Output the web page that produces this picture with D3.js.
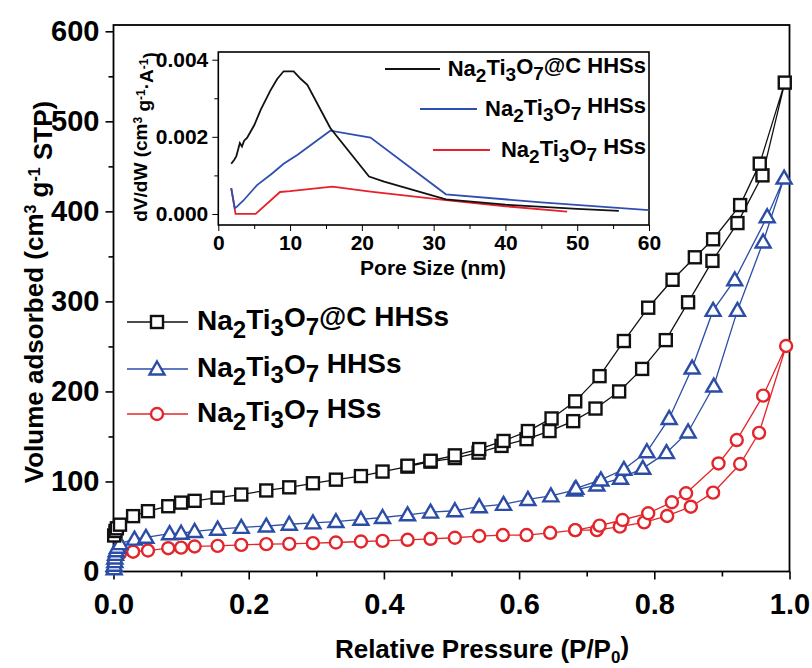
<!DOCTYPE html>
<html>
<head>
<meta charset="utf-8">
<script src="https://cdn.jsdelivr.net/npm/d3@7"></script>
<style>
  body { margin: 0; background: #fff; }
  text { font-family: "Liberation Sans", Arial, sans-serif; font-weight: bold; fill: #000; }
</style>
</head>
<body>
<svg id="chart" width="812" height="668"></svg>
<script>
// ---- isotherm data (relative pressure, volume) ----
var cAdsP = [0.001,0.003,0.005,0.0096,0.029,0.051,0.081,0.100,0.120,0.154,0.189,0.226,0.260,0.295,0.329,0.366,0.398,0.435,0.469,0.505,0.540,0.574,0.611,0.645,0.680,0.713,0.748,0.782,0.817,0.850,0.886,0.923,0.960,0.993];
var cAdsV = [40,45,48,52,61.5,67,72.5,76.5,78.5,82,85.5,90,93.5,98,102,106,111,116.5,122,126,132,139.5,147,156,167,181,200,225,257,299,345,387,440,543];
var cDesP = [0.956,0.927,0.887,0.860,0.827,0.791,0.755,0.719,0.683,0.648,0.613,0.577,0.541,0.505,0.469,0.435];
var cDesV = [453,407,369,349,324,293,256,217,189,170,156,145,136,129,123,117.5];

var hAdsP = [0.001,0.001,0.002,0.002,0.003,0.004,0.006,0.0096,0.031,0.048,0.083,0.100,0.120,0.154,0.189,0.226,0.260,0.295,0.329,0.366,0.398,0.435,0.469,0.505,0.541,0.577,0.613,0.647,0.682,0.715,0.750,0.783,0.818,0.850,0.888,0.923,0.961,0.992];
var hAdsV = [3,7,11,15,19,23,27,31,36,38,42,42.5,44.5,47,49,50.5,52.5,54,55.5,58,60,63,66,67.5,72,74.6,80,84,90.5,96,103.5,114.6,132,155,206,290,366,437];
var hDesP = [0.967,0.919,0.887,0.856,0.822,0.789,0.755,0.721,0.684];
var hDesV = [394,324,290,226,170,133,113.5,101.7,92.4];

var sAdsP = [0.001,0.003,0.006,0.0096,0.029,0.051,0.081,0.100,0.120,0.154,0.189,0.226,0.260,0.295,0.329,0.366,0.398,0.435,0.469,0.505,0.541,0.576,0.611,0.646,0.683,0.715,0.749,0.785,0.819,0.854,0.887,0.927,0.955,0.995];
var sAdsV = [8,14,18,20,22,23.3,25.9,26.5,27.8,28.5,29.6,30.4,30.7,31.5,32.2,33.3,34,35.2,36.3,37.5,39.4,40.5,40.5,43,46,46,49.8,54.6,61.7,72,87.6,119.4,154,250.5];
var sDesP = [0.961,0.922,0.895,0.847,0.826,0.791,0.753,0.719,0.683];
var sDesV = [195.3,146,120,86.9,76.9,64.7,57.2,50.9,46];

// ---- pore size distribution (inset) ----
var cPoreX = [1.8,2.2,2.5,2.8,3.0,3.3,3.6,4.0,5.0,5.9,7.25,8.2,9.1,10.5,11.5,12.4,15.6,21.0,23.1,31.7,40,50,55.8];
var cPoreY = [0.0013,0.0014,0.00149,0.0017,0.00184,0.00175,0.0019,0.00197,0.0023,0.0027,0.0032,0.0035,0.0037,0.0037,0.0035,0.00335,0.00223,0.00097,0.00084,0.00038,0.00024,0.00013,0.00008];
var hPoreX = [1.8,2.3,2.6,3.5,5.4,7.5,9.1,11.0,15.6,21.2,31.7,45,60];
var hPoreY = [0.00067,0.00015,0.00019,0.00035,0.00075,0.00105,0.0013,0.00153,0.00216,0.00198,0.00051,0.0003,0.0001];
var sPoreX = [1.8,2.4,5.2,8.6,10,15.9,21.2,31.7,40,48.6];
var sPoreY = [0.00067,0.0,0.0,0.00057,0.00059,0.00071,0.00058,0.00036,0.0002,0.00006];

var xTicks = [0,0.2,0.4,0.6,0.8,1.0];
var yTicks = [0,100,200,300,400,500,600];
var inXTicks = [0,10,20,30,40,50,60];
var inYTicks = [0,0.002,0.004];

var names = [
  [["Na",""],["2","sub"],["Ti",""],["3","sub"],["O",""],["7","sub"],["@C HHSs",""]],
  [["Na",""],["2","sub"],["Ti",""],["3","sub"],["O",""],["7","sub"],[" HHSs",""]],
  [["Na",""],["2","sub"],["Ti",""],["3","sub"],["O",""],["7","sub"],[" HSs",""]]
];
var colors = ["#111111", "#2b4da6", "#e2262b"];
var inColors = ["#111111", "#2f4fb0", "#e8202a"];
var shapes = ["square", "triangle", "circle"];

function zip(a, b) { return a.map(function(d, i) { return [d, b[i]]; }); }

var series = [
  { ads: zip(cAdsP, cAdsV), des: zip(cDesP, cDesV) },
  { ads: zip(hAdsP, hAdsV), des: zip(hDesP, hDesV) },
  { ads: zip(sAdsP, sAdsV), des: zip(sDesP, sDesV) }
];
var pores = [zip(cPoreX, cPoreY), zip(hPoreX, hPoreY), zip(sPoreX, sPoreY)];

// write a label with subscript / superscript pieces
function richText(sel, parts, subSize) {
  var shift = 0;
  parts.forEach(function(p) {
    var t = sel.append("tspan").text(p[0]);
    var target = p[1] == "sub" ? 0.32 : (p[1] == "sup" ? -0.45 : 0);
    var dy = target - shift;
    if (dy != 0) t.attr("dy", dy + "em");
    if (p[1]) t.style("font-size", subSize);
    shift = target;
  });
}

var svg = d3.select("#chart");

// ---------------- main plot ----------------
var mLeft = 113.5, mRight = 789.5, mTop = 25, mBottom = 571.5;
var x = d3.scaleLinear().domain([0, 1]).range([mLeft, mRight]);
var y = d3.scaleLinear().domain([0, 607]).range([mBottom, mTop]);

svg.append("rect")
  .attr("x", mLeft).attr("y", mTop)
  .attr("width", mRight - mLeft).attr("height", mBottom - mTop)
  .attr("fill", "none").attr("stroke", "#000").attr("stroke-width", 1.8);

// minor ticks
svg.append("g")
  .attr("transform", "translate(0," + mBottom + ")")
  .call(d3.axisBottom(x).tickValues(d3.range(0.1, 1, 0.2)).tickSize(5).tickFormat(""))
  .call(function(g) { g.select(".domain").remove(); });
svg.append("g")
  .attr("transform", "translate(" + mLeft + ",0)")
  .call(d3.axisLeft(y).tickValues(d3.range(50, 601, 100)).tickSize(5).tickFormat(""))
  .call(function(g) { g.select(".domain").remove(); });

var xAxis = svg.append("g")
  .attr("transform", "translate(0," + mBottom + ")")
  .call(d3.axisBottom(x).tickValues(xTicks).tickSize(8).tickPadding(14).tickFormat(d3.format(".1f")));
xAxis.select(".domain").remove();
xAxis.selectAll("text").style("font-size", "29px");

var yAxis = svg.append("g")
  .attr("transform", "translate(" + mLeft + ",0)")
  .call(d3.axisLeft(y).tickValues(yTicks).tickSize(8).tickPadding(6));
yAxis.select(".domain").remove();
yAxis.selectAll("text").style("font-size", "29px");

svg.selectAll(".tick line").attr("stroke-width", 1.6);

var xTitle = svg.append("text")
  .attr("x", 482).attr("y", 658)
  .attr("text-anchor", "middle").style("font-size", "26px");
richText(xTitle, [["Relative Pressure (P/P",""],["0","sub"],[")",""]], "17px");

var yTitle = svg.append("text")
  .attr("transform", "translate(43,292) rotate(-90)")
  .attr("text-anchor", "middle").style("font-size", "26px");
richText(yTitle, [["Volume adsorbed (cm",""],["3","sup"],[" g",""],["-1","sup"],[" STP)",""]], "16px");

function marker(g, shape, color, cx, cy) {
  if (shape == "square") {
    g.append("rect").attr("x", cx - 6).attr("y", cy - 6).attr("width", 12).attr("height", 12)
      .attr("fill", "#fff").attr("stroke", color).attr("stroke-width", 2.4);
  } else if (shape == "triangle") {
    g.append("path").attr("transform", "translate(" + cx + "," + cy + ")")
      .attr("d", "M0,-7.5L7.5,5.5L-7.5,5.5Z")
      .attr("fill", "#fff").attr("stroke", color).attr("stroke-width", 2.4);
  } else {
    g.append("circle").attr("cx", cx).attr("cy", cy).attr("r", 6)
      .attr("fill", "#fff").attr("stroke", color).attr("stroke-width", 2.4);
  }
}

var line = d3.line().x(function(d) { return x(d[0]); }).y(function(d) { return y(d[1]); });

// draw series back to front: red, blue, black
[2, 1, 0].forEach(function(i) {
  var s = series[i];
  var g = svg.append("g");
  g.append("path").datum(s.ads.concat(s.des))
    .attr("d", line).attr("fill", "none").attr("stroke", colors[i]).attr("stroke-width", 1.3);
  s.ads.concat(s.des).forEach(function(d) { marker(g, shapes[i], colors[i], x(d[0]), y(d[1])); });
});

// main legend
var legY = [322, 369, 414];
names.forEach(function(n, i) {
  svg.append("line").attr("x1", 127).attr("x2", 188).attr("y1", legY[i]).attr("y2", legY[i])
    .attr("stroke", colors[i]).attr("stroke-width", 1.3);
  marker(svg, shapes[i], colors[i], 157, legY[i]);
  var t = svg.append("text").attr("x", 197).attr("y", legY[i] + 8).style("font-size", "28px");
  richText(t, n, "24px");
});

// ---------------- inset ----------------
var ix = d3.scaleLinear().domain([0, 60]).range([218.3, 649]);
var iy = d3.scaleLinear().domain([-0.000286, 0.0042]).range([225, 52]);

svg.append("rect")
  .attr("x", 218.3).attr("y", 52).attr("width", 649 - 218.3).attr("height", 225 - 52)
  .attr("fill", "#fff").attr("stroke", "#000").attr("stroke-width", 1.6);

svg.append("g")
  .attr("transform", "translate(0,225)")
  .call(d3.axisBottom(ix).tickValues(d3.range(5, 60, 10)).tickSize(4).tickFormat(""))
  .call(function(g) { g.select(".domain").remove(); });
svg.append("g")
  .attr("transform", "translate(218.3,0)")
  .call(d3.axisLeft(iy).tickValues([0.001, 0.003]).tickSize(4).tickFormat(""))
  .call(function(g) { g.select(".domain").remove(); });

var ixAxis = svg.append("g")
  .attr("transform", "translate(0,225)")
  .call(d3.axisBottom(ix).tickValues(inXTicks).tickSize(6).tickPadding(4));
ixAxis.select(".domain").remove();
ixAxis.selectAll("text").style("font-size", "21px");

var iyAxis = svg.append("g")
  .attr("transform", "translate(218.3,0)")
  .call(d3.axisLeft(iy).tickValues(inYTicks).tickSize(6).tickPadding(4).tickFormat(d3.format(".3f")));
iyAxis.select(".domain").remove();
iyAxis.selectAll("text").style("font-size", "21px");

svg.append("text").attr("x", 433).attr("y", 275).attr("text-anchor", "middle")
  .style("font-size", "21px").text("Pore Size (nm)");

var iyTitle = svg.append("text")
  .attr("transform", "translate(147,137) rotate(-90)")
  .attr("text-anchor", "middle").style("font-size", "19px");
richText(iyTitle, [["dV/dW (cm",""],["3","sup"],[" g",""],["-1","sup"],["\u00b7A",""],["-1","sup"],[")",""]], "12px");

var iline = d3.line().x(function(d) { return ix(d[0]); }).y(function(d) { return iy(d[1]); });
[2, 1, 0].forEach(function(i) {
  svg.append("path").datum(pores[i]).attr("d", iline)
    .attr("fill", "none").attr("stroke", inColors[i]).attr("stroke-width", 1.8);
});

// inset legend
var inLeg = [[385, 440, 69], [420, 477, 109], [433, 490, 150]];
names.forEach(function(n, i) {
  svg.append("line").attr("x1", inLeg[i][0]).attr("x2", inLeg[i][1])
    .attr("y1", inLeg[i][2]).attr("y2", inLeg[i][2])
    .attr("stroke", inColors[i]).attr("stroke-width", 1.8);
  var t = svg.append("text").attr("x", 646).attr("y", inLeg[i][2] + 7)
    .attr("text-anchor", "end").style("font-size", "22px");
  richText(t, n, "19px");
});
</script>
</body>
</html>
